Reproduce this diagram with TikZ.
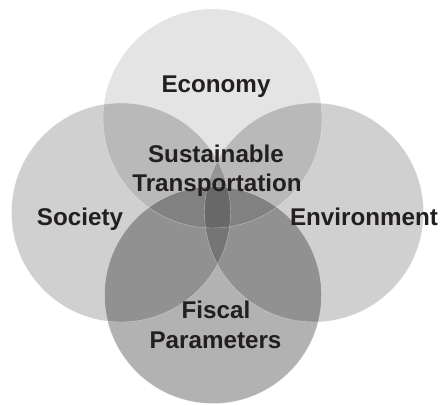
\documentclass[tikz,border=0pt]{standalone}
\usepackage{fontspec}
\setmainfont{Liberation Sans}
\definecolor{ink}{HTML}{231F20}
\begin{document}
\begin{tikzpicture}[x=1pt,y=-1pt,
  disc/.style={fill=black},
  lbl/.style={anchor=base, inner sep=0pt, text=ink, font=\bfseries\fontsize{24.2}{28}\selectfont}]
\useasboundingbox (0,0) rectangle (443,404);
\fill[white] (0,0) rectangle (443,404);
\fill[disc, fill opacity=0.105] (212.5,118.5) circle (109.5);
\fill[disc, fill opacity=0.185] (121,212.5) circle (109.5);
\fill[disc, fill opacity=0.185] (314,212.5) circle (109.5);
\fill[disc, fill opacity=0.30] (213,295) circle (108.5);
\draw[white, opacity=0.45, line width=0.4pt] (212.5,118.5) circle (109.5) (121,212.5) circle (109.5) (314,212.5) circle (109.5) (213,295) circle (108.5);
\node[lbl] (eco) at (216,92.5) {Economy};
\node[lbl] (st1) at (216,162) {Sustainable};
\node[lbl] (st2) at (217,191.5) {Transportation};
\node[lbl] (soc) at (80,225) {Society};
\node[lbl] (env) at (364,225) {Environment};
\node[lbl] (fi1) at (216,318) {Fiscal};
\node[lbl] (fi2) at (215.5,348) {Parameters};
\end{tikzpicture}
\end{document}
